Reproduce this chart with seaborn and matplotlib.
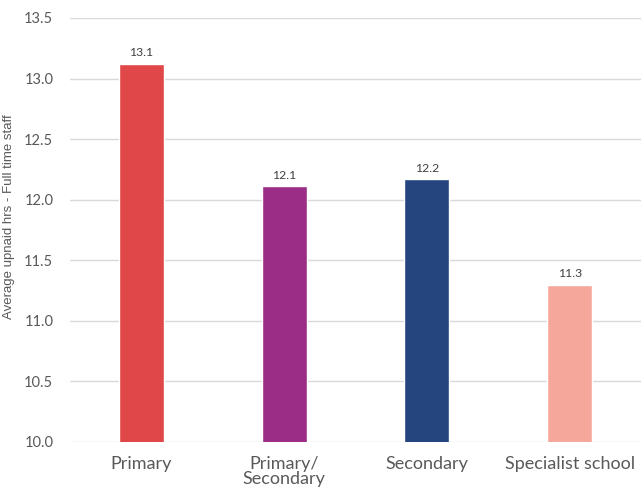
import matplotlib
matplotlib.use("Agg")
import matplotlib.pyplot as plt
import seaborn as sns
import pandas as pd

school_types = ["Primary", "Primary/\nSecondary", "Secondary", "Specialist school"]
avg_unpaid_hours = [13.12, 12.11, 12.17, 11.30]
bar_colors = ["#E04748", "#9B2D87", "#25457F", "#F5A79C"]
y_ticks = [10.0, 10.5, 11.0, 11.5, 12.0, 12.5, 13.0, 13.5]

df = pd.DataFrame({"school": school_types, "hours": avg_unpaid_hours})

sns.set_theme(style="white")
plt.rcParams["font.family"] = ["Lato", "DejaVu Sans"]

text_gray = "#595959"
fig = plt.figure(figsize=(6.41, 4.91), dpi=100)
ax = fig.add_axes([70 / 641, 49 / 491, 571 / 641, 424 / 491])

sns.barplot(data=df, x="school", y="hours", hue="school", palette=bar_colors,
            width=0.314, legend=False, ax=ax, saturation=1, zorder=3)

ax.set_ylim(10.0, 13.5)
ax.set_xlim(-0.5, 3.5)
ax.set_yticks(y_ticks)
ax.set_yticklabels([f"{t:.1f}" for t in y_ticks])
ax.yaxis.grid(True, color="#d9d9d9", linewidth=1.0, zorder=0)
ax.set_axisbelow(True)
for s in ax.spines.values():
    s.set_visible(False)

ax.tick_params(axis="y", length=0, pad=12, labelsize=10.5, labelcolor=text_gray)
ax.tick_params(axis="x", length=0, pad=10, labelsize=13, labelcolor=text_gray)
for lbl in ax.get_xticklabels():
    lbl.set_linespacing(0.95)

ax.set_xlabel("")
ax.set_ylabel("Average upnaid hrs - Full time staff", fontsize=9.5, color=text_gray,
              family=["Liberation Sans", "DejaVu Sans"], va="center")
ax.yaxis.set_label_coords(-0.107, 0.531)

for i, v in enumerate(avg_unpaid_hours):
    ax.annotate(f"{v:.1f}", xy=(i, v), xytext=(0, 4), textcoords="offset points",
                ha="center", va="bottom", fontsize=8.8, color="#404040")

fig.savefig("out.png", dpi=100)
